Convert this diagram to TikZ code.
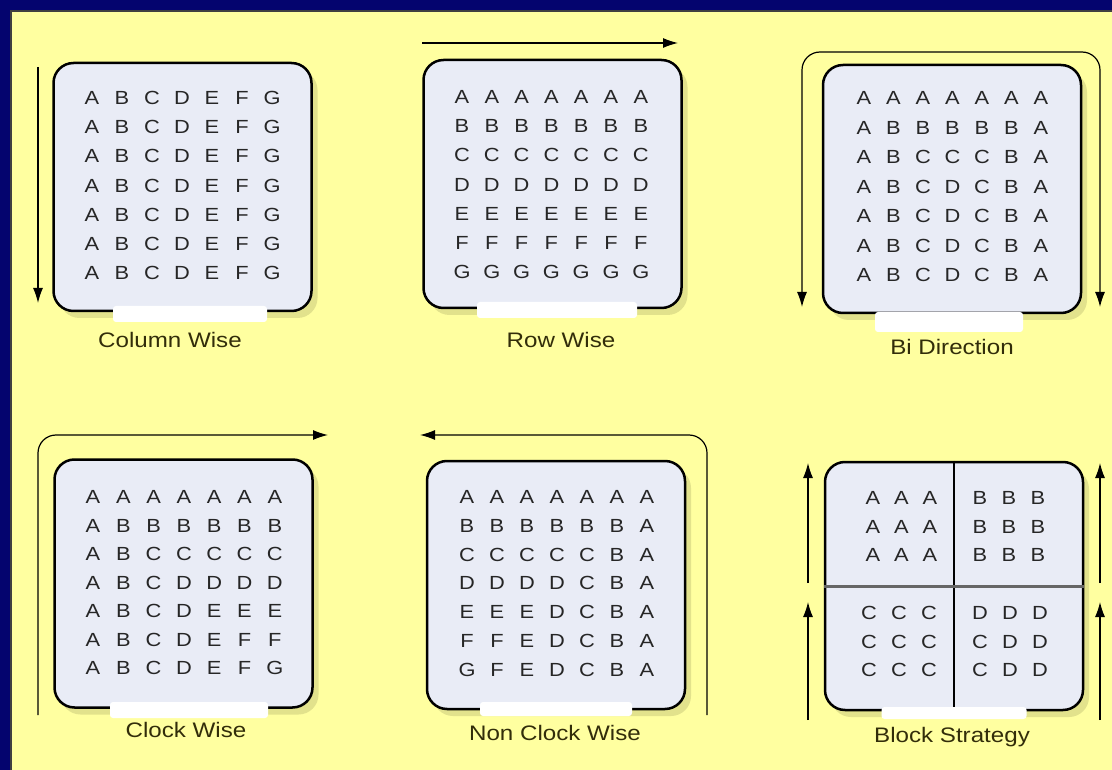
\documentclass[tikz,border=0pt]{standalone}
\usepackage{fontspec}
\setmainfont{Liberation Sans}[FakeStretch=1.15]
\usetikzlibrary{arrows.meta,shadows}

\definecolor{marine}{RGB}{4,4,110}
\definecolor{fond}{RGB}{255,255,160}
\definecolor{ombre}{RGB}{226,226,140}
\definecolor{gris}{RGB}{233,236,246}
\definecolor{texte}{RGB}{50,45,10}

\tikzset{
  cadre/.style={draw=black, line width=2.5pt, rounded corners=20pt, fill=gris,
    minimum width=258pt, minimum height=248pt, inner sep=0pt,
    drop shadow={shadow xshift=6pt, shadow yshift=-7pt, fill=ombre, opacity=1}},
  tache/.style={fill=white, rounded corners=3pt, inner sep=0pt, minimum height=16pt},
  lettre/.style={font=\fontsize{19}{19}\selectfont, text=black!85, inner sep=0pt},
  titre/.style={font=\fontsize{21}{21}\selectfont, text=texte, inner sep=0pt, anchor=base},
  fleche/.style={line width=1.2pt, -{Latex[length=15pt,width=10pt]}},
  fleches/.style={line width=1.2pt, {Latex[length=15pt,width=10pt]}-{Latex[length=15pt,width=10pt]}},
}

% nom, x et y de la premiere lettre, pas en x, pas en y, lignes
\newcommand{\grille}[6]{%
  \foreach \ligne [count=\j] in {#6} {
    \foreach \lettre [count=\i] in \ligne
      \node[lettre] (#1-\j-\i) at ({#2+(\i-1)*#4},{#3+(\j-1)*#5}) {\lettre};
  }%
}

\begin{document}
\begin{tikzpicture}[x=1pt, y=-1pt]
  \useasboundingbox (0,0) rectangle (1112,770);

  % Le fond
  \fill[marine] (0,0) rectangle (1112,770);
  \filldraw[fill=fond, draw=black!75, line width=2pt] (11,11) rectangle (1130,790);

  % Les cadres
  \node[cadre] (colonne) at (182.5,187) {};
  \node[cadre] (ligne) at (552.5,184) {};
  \node[cadre] (bidir) at (952,189) {};
  \node[cadre] (horaire) at (183.5,583.5) {};
  \node[cadre] (antihoraire) at (556,585) {};
  \node[cadre] (bloc) at (954,586) {};

  % Les separations des blocs
  \draw[line width=1.5pt] (bloc.north) -- (bloc.south);
  \draw[line width=3pt, black!60] (bloc.west) -- (bloc.east);

  % Les taches blanches
  \node[tache, minimum width=154pt] (t1) at (190,314) {};
  \node[tache, minimum width=160pt] (t2) at (557,310) {};
  \node[tache, minimum width=148pt, minimum height=20pt] (t3) at (949,322) {};
  \node[tache, minimum width=158pt] (t4) at (189,710) {};
  \node[tache, minimum width=152pt, minimum height=14pt] (t5) at (556,709) {};
  \node[tache, minimum width=145pt, minimum height=12pt] (t6) at (954,713) {};

  % Les lettres
  \grille{c}{92}{98}{30}{29.2}{{A,B,C,D,E,F,G},{A,B,C,D,E,F,G},{A,B,C,D,E,F,G},
    {A,B,C,D,E,F,G},{A,B,C,D,E,F,G},{A,B,C,D,E,F,G},{A,B,C,D,E,F,G}}
  \grille{r}{462}{97}{29.8}{29.2}{{A,A,A,A,A,A,A},{B,B,B,B,B,B,B},{C,C,C,C,C,C,C},
    {D,D,D,D,D,D,D},{E,E,E,E,E,E,E},{F,F,F,F,F,F,F},{G,G,G,G,G,G,G}}
  \grille{b}{864}{98}{29.5}{29.5}{{A,A,A,A,A,A,A},{A,B,B,B,B,B,A},{A,B,C,C,C,B,A},
    {A,B,C,D,C,B,A},{A,B,C,D,C,B,A},{A,B,C,D,C,B,A},{A,B,C,D,C,B,A}}
  \grille{h}{93}{497}{30.3}{28.5}{{A,A,A,A,A,A,A},{A,B,B,B,B,B,B},{A,B,C,C,C,C,C},
    {A,B,C,D,D,D,D},{A,B,C,D,E,E,E},{A,B,C,D,E,F,F},{A,B,C,D,E,F,G}}
  \grille{a}{467}{497}{30}{28.8}{{A,A,A,A,A,A,A},{B,B,B,B,B,B,A},{C,C,C,C,C,B,A},
    {D,D,D,D,C,B,A},{E,E,E,D,C,B,A},{F,F,E,D,C,B,A},{G,F,E,D,C,B,A}}
  \grille{ba}{873}{498}{28.5}{28.5}{{A,A,A},{A,A,A},{A,A,A}}
  \grille{bb}{980}{498}{29}{28.5}{{B,B,B},{B,B,B},{B,B,B}}
  \grille{bc}{869}{613}{30}{28.5}{{C,C,C},{C,C,C},{C,C,C}}
  \grille{bd}{980}{613}{30}{28.5}{{D,D,D},{C,D,D},{C,D,D}}

  % Les titres
  \node[titre] (n1) at (170,348) {Column Wise};
  \node[titre] (n2) at (561,347) {Row Wise};
  \node[titre] (n3) at (952,354) {Bi Direction};
  \node[titre] (n4) at (186,737) {Clock Wise};
  \node[titre] (n5) at (555,740) {Non Clock Wise};
  \node[titre] (n6) at (952,742) {Block Strategy};

  % Les fleches
  \draw[fleche] (38,67) -- (38,303);
  \draw[fleche] (422,43) -- (678,43);
  \draw[fleches, rounded corners=18pt] (802,307) -- (802,52) -- (1100,52) -- (1100,307);
  \draw[fleche, rounded corners=18pt] (38,715) -- (38,435) -- (328,435);
  \draw[fleche, rounded corners=18pt] (707,715) -- (707,435) -- (420,435);
  \draw[fleche] (808,583) -- (808,463);
  \draw[fleche] (808,720) -- (808,602);
  \draw[fleche] (1100,583) -- (1100,463);
  \draw[fleche] (1100,720) -- (1100,602);

\end{tikzpicture}
\end{document}
